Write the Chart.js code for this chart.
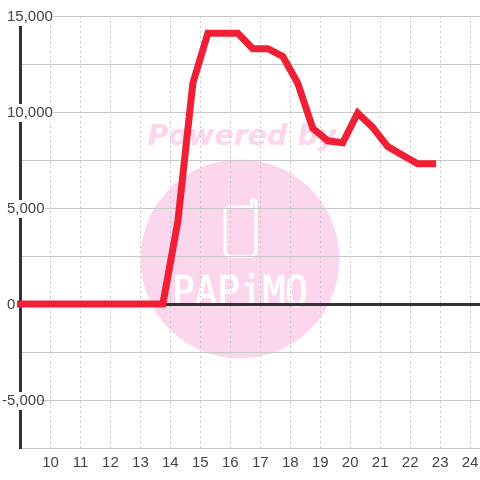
<!DOCTYPE html>
<html lang="en">
<head>
<meta charset="UTF-8">
<title>Hourly chart</title>
<script src="https://cdn.jsdelivr.net/npm/chart.js"></script>
<style>
    html, body { margin: 0; padding: 0; background: #fff; }
    #wrap { position: relative; width: 480px; height: 480px; overflow: hidden; }
    #mark, canvas { position: absolute; left: 0; top: 0; }
</style>
</head>
<body>
<div id="wrap">
    <!-- watermark sits behind the transparent canvas -->
    <svg id="mark" width="480" height="480" viewBox="0 0 480 480">
        <circle cx="240" cy="259" r="99.5" fill="#fcd6ec"/>
        <text x="242" y="145" text-anchor="middle" font-family="DejaVu Sans" font-weight="bold" font-style="italic" font-size="28.5" fill="#fcd6ec">Powered by</text>
        <path d="M230 207 H251.5 V202 Q251.5 200 254 200 Q256 200 256 202 V251 Q256 256.5 250 256.5 H231 Q225 256.5 225 251 V212 Q225 207 230 207 Z" fill="none" stroke="#fff" stroke-width="3"/>
        <text x="240" y="305.5" text-anchor="middle" font-family="DejaVu Sans Mono" font-size="42" textLength="136" lengthAdjust="spacingAndGlyphs" fill="#fff" stroke="#fff" stroke-width="0.7">PAPiMO</text>
    </svg>
    <canvas id="chart" width="480" height="480"></canvas>
</div>
<script>
    const hours = [8.75, 13.75, 14.25, 14.75, 15.25, 15.75, 16.25, 16.75, 17.25, 17.75, 18.25, 18.75, 19.25, 19.75, 20.25, 20.75, 21.25, 21.75, 22.25, 22.75];
    const values = [0, 0, 4300, 11500, 14100, 14100, 14100, 13300, 13300, 12900, 11500, 9150, 8500, 8400, 9950, 9200, 8200, 7750, 7300, 7300];

    const textColor = '#444';
    const axisColor = '#333';
    const gridColor = '#c8c8c8';

    // y labels sit 1px lower, negative ones hang a little further left in the original
    const nudgeYLabels = {
        id: 'nudgeYLabels',
        afterLayout(chart) {
            const scale = chart.scales.y;
            scale._labelItems = null;
            scale.getLabelItems(chart.chartArea).forEach(item => {
                item.options.translation[1] += 1;
                if (String(item.label).startsWith('-')) {
                    item.options.translation[0] -= 5;
                    if (item.options.backdrop) item.options.backdrop.left -= 5;
                }
            });
        }
    };

    new Chart(document.getElementById('chart'), {
        type: 'line',
        data: {
            datasets: [{
                data: hours.map((h, i) => ({ x: h, y: values[i] })),
                borderColor: '#f11f35',
                borderWidth: 7,
                borderCapStyle: 'square',
                borderJoinStyle: 'miter',
                pointRadius: 0,
                tension: 0,
                fill: false,
                clip: 3.5
            }]
        },
        plugins: [nudgeYLabels],
        options: {
            responsive: false,
            animation: false,
            layout: { padding: { left: 7, right: 0, top: 16, bottom: 0 } },
            plugins: { legend: { display: false }, tooltip: { enabled: false } },
            scales: {
                x: {
                    type: 'linear',
                    min: 9,
                    max: 24.33,
                    afterFit: scale => {
                        scale.height = 32;
                        scale.paddingLeft = 0;
                        scale.paddingRight = 0;
                    },
                    grid: { color: gridColor, lineWidth: 1, drawTicks: false },
                    border: { display: false, dash: [2, 3] },
                    ticks: {
                        stepSize: 1,
                        includeBounds: false,
                        autoSkip: false,
                        maxRotation: 0,
                        padding: 6,
                        color: textColor,
                        font: { family: 'Liberation Sans', size: 15 },
                        callback: v => (v === 9 ? '' : String(v))
                    }
                },
                y: {
                    min: -7500,
                    max: 15000,
                    afterFit: scale => { scale.width = 13.5; },
                    grid: {
                        color: ctx => (ctx.tick && ctx.tick.value === 0 ? axisColor : gridColor),
                        lineWidth: ctx => (ctx.tick && ctx.tick.value === 0 ? 3 : 1),
                        drawTicks: false
                    },
                    border: { display: true, color: axisColor, width: 3 },
                    ticks: {
                        stepSize: 2500,
                        mirror: true,
                        crossAlign: 'near',
                        padding: -13.5,
                        color: textColor,
                        font: { family: 'Liberation Sans', size: 15 },
                        showLabelBackdrop: ctx => ctx.tick.value % 5000 === 0,
                        backdropColor: '#fff',
                        backdropPadding: 0,
                        callback: v => (v % 5000 === 0 ? v.toLocaleString('en-US') : '')
                    }
                }
            }
        }
    });
</script>
</body>
</html>
